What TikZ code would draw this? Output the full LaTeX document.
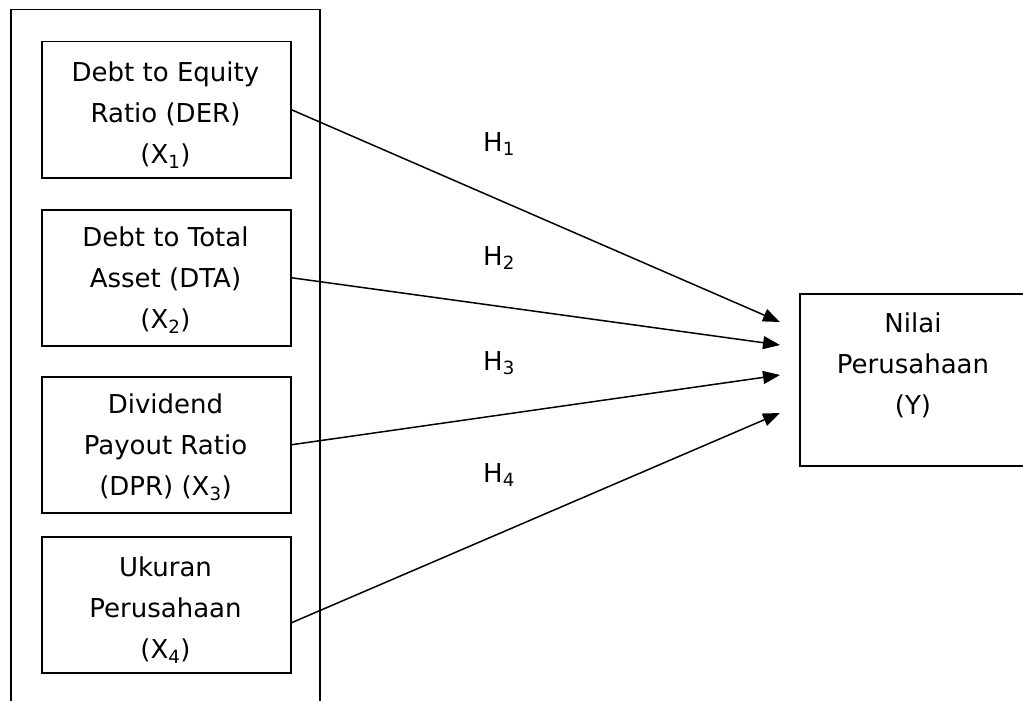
\documentclass[tikz,border=0pt]{standalone}
\usepackage{fontspec}
\setmainfont{DejaVu Sans}
\usetikzlibrary{arrows.meta}
\tikzset{
  box/.style={draw, line width=1.5pt, inner sep=0pt, anchor=north west},
  txt/.style={align=center, inner sep=0pt, anchor=north, font=\fontsize{26}{41}\selectfont},
  hlab/.style={inner sep=0pt, anchor=base west, font=\fontsize{26}{30}\selectfont},
  conn/.style={line width=1.5pt, -{Triangle[length=17pt,width=13pt]}}
}
\begin{document}
\begin{tikzpicture}[x=1pt,y=-1pt]
\clip (0,0) rectangle (1023,701);
\fill[white] (0,0) rectangle (1023,701);
% outer container
\node[box, minimum width=309pt, minimum height=720pt] (outer) at (10,9) {};
% left boxes
\node[box, minimum width=249pt, minimum height=136pt] (b1) at (41,41) {};
\node[box, minimum width=249pt, minimum height=136pt] (b2) at (41,209) {};
\node[box, minimum width=249pt, minimum height=136pt] (b3) at (41,376) {};
\node[box, minimum width=249pt, minimum height=136pt] (b4) at (41,536) {};
% right box
\node[box, minimum width=230pt, minimum height=172pt] (y) at (799,293) {};
% texts
\node[txt] (t1) at (165.5,62) {Debt to Equity\\Ratio (DER)\\(X\textsubscript{1})};
\node[txt] (t2) at (165.5,227) {Debt to Total\\Asset (DTA)\\(X\textsubscript{2})};
\node[txt] (t3) at (165.5,394) {Dividend\\Payout Ratio\\(DPR) (X\textsubscript{3})};
\node[txt] (t4) at (165.5,557) {Ukuran\\Perusahaan\\(X\textsubscript{4})};
\node[txt] (ty) at (913,313) {Nilai\\Perusahaan\\(Y)};
% hypothesis labels
\node[hlab] (h1) at (483,151) {H\textsubscript{1}};
\node[hlab] (h2) at (483,265) {H\textsubscript{2}};
\node[hlab] (h3) at (483,370) {H\textsubscript{3}};
\node[hlab] (h4) at (483,482) {H\textsubscript{4}};
% arrow end points
\coordinate (p1) at (780,322);
\coordinate (p2) at (780,345);
\coordinate (p3) at (780,375);
\coordinate (p4) at (780,413);
\draw[conn] (b1.east) -- (p1);
\draw[conn] (b2.east) -- (p2);
\draw[conn] (b3.east) -- (p3);
\draw[conn] ([yshift=-18pt]b4.east) -- (p4);
\end{tikzpicture}
\end{document}
